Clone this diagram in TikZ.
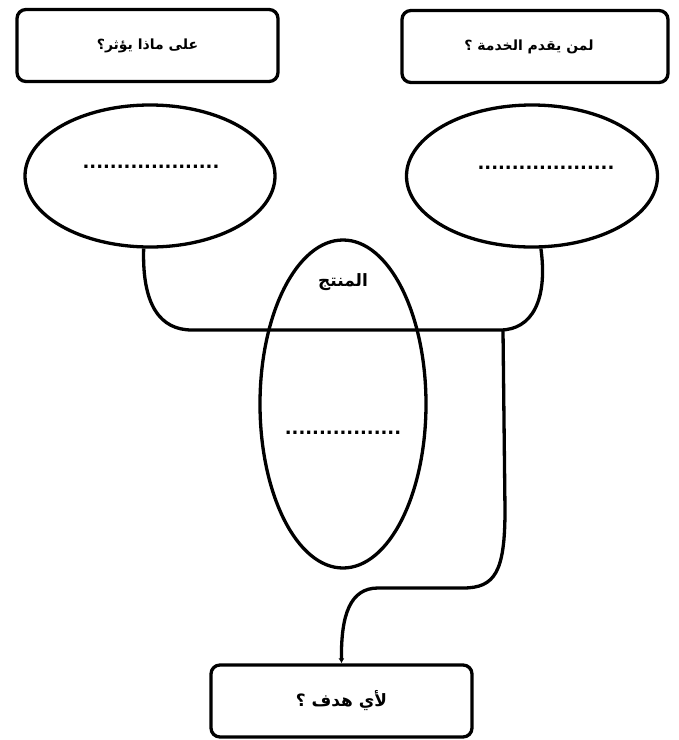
\documentclass[tikz,border=0pt]{standalone}
\usepackage{fontspec}
\usetikzlibrary{shapes.geometric,arrows.meta}
\TeXXeTstate=1
\newfontfamily\arabicfont[Script=Arabic]{DejaVu Sans}
\newfontfamily\dotfont{DejaVu Sans}
\newcommand{\ar}[1]{{\arabicfont\bfseries\beginR #1\endR}}
\tikzset{
  qbox/.style={draw, line width=3.3pt, rounded corners=9pt, minimum width=261pt,
    minimum height=72pt, inner sep=0pt, font=\fontsize{14}{16}\selectfont},
  oval/.style={draw, line width=3.3pt, ellipse, inner sep=0pt},
  blank/.style={inner sep=0pt, font=\dotfont\bfseries\fontsize{18}{18}\selectfont},
  link/.style={line width=3.3pt, line join=round},
}
\begin{document}
\begin{tikzpicture}[x=1pt,y=-1pt]
\useasboundingbox (0,0) rectangle (679,740);

% question boxes
\node[qbox] (qa) at (147.5,45.5) {\ar{على ماذا يؤثر؟}};
\node[qbox, minimum width=266pt] (qb) at (535,46.5) {\hspace*{-12pt}\ar{لمن يقدم الخدمة ؟}};
\node[qbox, font=\fontsize{17}{19}\selectfont] (qc) at (341.5,701) {\ar{لأي هدف ؟}};

% ovals
\node[oval, minimum width=250pt, minimum height=142pt] (ea) at (150,176) {};
\node[oval, minimum width=251pt, minimum height=142pt] (eb) at (532,176) {};
\node[oval, minimum width=166pt, minimum height=328pt] (ec) at (343,404) {};

% blanks to fill in
\node[blank] (da) at (151,167) {....................};
\node[blank] (db) at (546,168) {....................};
\node[blank] (dc) at (343,433) {.................};
\node[inner sep=0pt, font=\fontsize{17}{19}\selectfont] (lc) at (343,282) {\ar{المنتج}};

% connectors
\coordinate (j) at (503,330);
\draw[link] (ea.265) .. controls (142,305) and (160,330) .. (192,330)
  -- (j) -- (500,330) .. controls (532,330) and (548,300) .. (eb.277);
\draw[link, -{Latex[length=5pt,width=6pt]}] (j) -- (505,510)
  .. controls (505,572) and (495,588) .. (463,588) -- (378,588)
  .. controls (350,588) and (341,615) .. (qc.north);
\end{tikzpicture}
\end{document}
